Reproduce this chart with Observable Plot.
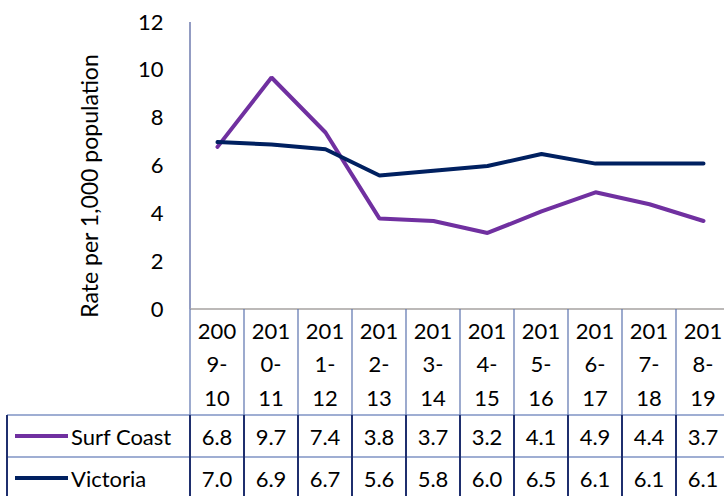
<!DOCTYPE html>
<html>
<head>
<meta charset="utf-8">
<script src="https://cdn.jsdelivr.net/npm/d3@7"></script>
<script src="https://cdn.jsdelivr.net/npm/@observablehq/plot@0.6"></script>
<style>
  html, body { margin: 0; padding: 0; background: #fff; overflow: hidden; }
  svg { display: block; }
</style>
</head>
<body>
<div id="chart"></div>
<script>
const categories = ["2009-10","2010-11","2011-12","2012-13","2013-14","2014-15","2015-16","2016-17","2017-18","2018-19"];
const surfCoast = [6.8, 9.7, 7.4, 3.8, 3.7, 3.2, 4.1, 4.9, 4.4, 3.7];
const victoria  = [7.0, 6.9, 6.7, 5.6, 5.8, 6.0, 6.5, 6.1, 6.1, 6.1];
const seriesNames = ["Surf Coast", "Victoria"];
const seriesColors = ["#7030A0", "#002060"];
const yTicks = [0, 2, 4, 6, 8, 10, 12];
const yTitle = "Rate per 1,000 population";

const FONT = "Lato, 'Open Sans', sans-serif";
const FS = 22;

const rows = [];
categories.forEach((c, i) => {
  rows.push({cat: c, series: seriesNames[0], value: surfCoast[i]});
  rows.push({cat: c, series: seriesNames[1], value: victoria[i]});
});

function headerLines(c) {
  return [c.slice(0, 3), c.slice(3, 4) + "-", c.slice(5)];
}

// layout constants (pixels)
const TOP = 22, AXIS_Y = 309, HEADER_H = 106, ROW_H = 42, TABLE_LEFT = 7;

function txt(g, x, y, s, anchor) {
  return g.append("text").attr("x", x).attr("y", y)
    .attr("text-anchor", anchor).attr("dominant-baseline", "central")
    .attr("font-family", FONT).attr("font-size", FS).attr("fill", "#000").text(s);
}

// axis line + data table, drawn with d3 through Plot's x scale
function table(index, scales, values, dims) {
  const x = scales.x, bw = x.bandwidth();
  const g = d3.create("svg:g");
  const x0 = x(categories[0]), x1 = x(categories[categories.length - 1]) + bw;
  const yH = AXIS_Y + HEADER_H, yR1 = yH + ROW_H, yR2 = yR1 + ROW_H;
  // y axis line
  g.append("line").attr("x1", x0).attr("x2", x0).attr("y1", TOP).attr("y2", AXIS_Y)
    .attr("stroke", "#4a5a9a").attr("stroke-width", 1.2);
  // horizontal lines
  g.append("line").attr("x1", x0).attr("x2", x1).attr("y1", AXIS_Y).attr("y2", AXIS_Y)
    .attr("stroke", "#a6a2a0").attr("stroke-width", 1.5);
  [yH, yR1, yR2].forEach(yy => {
    g.append("line").attr("x1", TABLE_LEFT).attr("x2", x1).attr("y1", yy).attr("y2", yy)
      .attr("stroke", "#7f93c4").attr("stroke-width", 1.5);
  });
  // vertical lines
  categories.forEach(c => {
    const xx = x(c);
    g.append("line").attr("x1", xx).attr("x2", xx).attr("y1", AXIS_Y).attr("y2", yH)
      .attr("stroke", "#5b72ad").attr("stroke-width", 1.2);
    g.append("line").attr("x1", xx).attr("x2", xx).attr("y1", yH).attr("y2", yR2)
      .attr("stroke", "#1f2f6e").attr("stroke-width", 2);
  });
  g.append("line").attr("x1", x1).attr("x2", x1).attr("y1", AXIS_Y).attr("y2", yR2)
    .attr("stroke", "#1f2f6e").attr("stroke-width", 2);
  g.append("line").attr("x1", TABLE_LEFT).attr("x2", TABLE_LEFT).attr("y1", yH).attr("y2", yR2)
    .attr("stroke", "#1f2f6e").attr("stroke-width", 2);
  // header text
  categories.forEach(c => {
    const cx = x(c) + bw / 2;
    headerLines(c).forEach((t, k) => txt(g, cx, AXIS_Y + 21 + k * 33.5, t, "middle"));
  });
  // series rows
  const data = [surfCoast, victoria];
  seriesNames.forEach((s, r) => {
    const cy = yH + ROW_H * r + ROW_H / 2;
    g.append("line").attr("x1", 15).attr("x2", 68).attr("y1", cy).attr("y2", cy)
      .attr("stroke", seriesColors[r]).attr("stroke-width", 4);
    txt(g, 71, cy, s, "start");
    categories.forEach((c, i) => txt(g, x(c) + bw / 2, cy, data[r][i].toFixed(1), "middle"));
  });
  return g.node();
}

const chart = Plot.plot({
  width: 724,
  height: 496,
  marginLeft: 190,
  marginRight: -6,
  marginTop: TOP,
  marginBottom: 496 - AXIS_Y,
  style: {fontFamily: FONT, fontSize: FS + "px", color: "#000", background: "#fff"},
  x: {type: "band", domain: categories, padding: 0, axis: null},
  y: {domain: [0, 12], label: null},
  color: {domain: seriesNames, range: seriesColors},
  marks: [
    Plot.axisY({ticks: yTicks, tickSize: 0, tickPadding: 27, fontSize: FS, label: null}),
    Plot.text([yTitle], {frameAnchor: "left", textAnchor: "middle", dx: -100, dy: 20, rotate: -90, fontSize: 23, fill: "#000"}),
    Plot.line(rows, {x: "cat", y: "value", z: "series", stroke: "series", strokeWidth: 4, strokeLinejoin: "miter", curve: "linear"}),
    table
  ]
});
document.getElementById("chart").append(chart);
</script>
</body>
</html>
